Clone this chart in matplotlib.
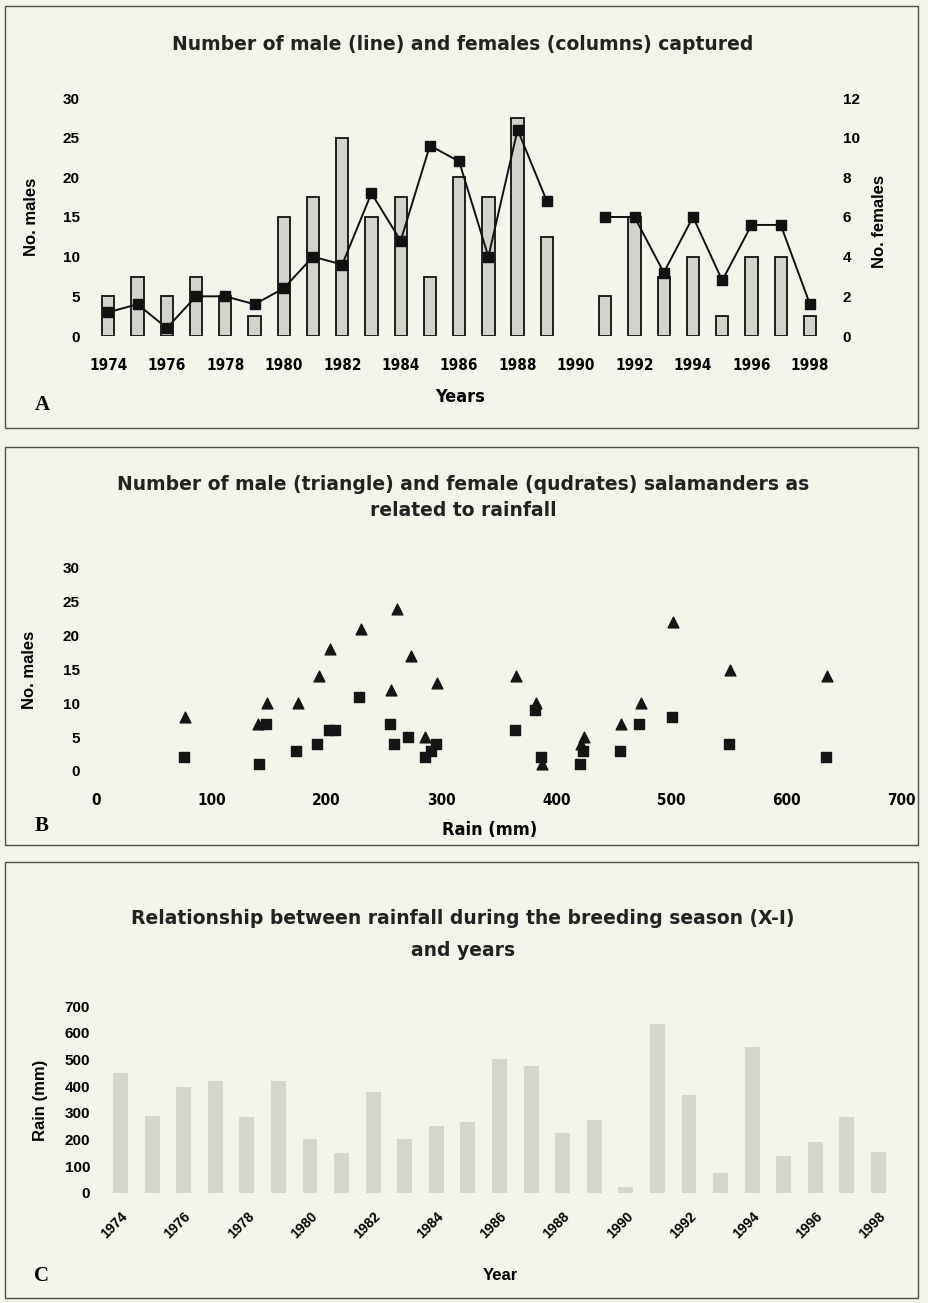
import os
import matplotlib
matplotlib.use('Agg')
import matplotlib.pyplot as plt
from matplotlib import font_manager
from matplotlib.font_manager import FontProperties
from matplotlib.patches import Rectangle
import numpy as np

# ---------------- data ----------------
years = list(range(1974, 1999))
males = [3, 4, 1, 5, 5, 4, 6, 10, 9, 18, 12, 24, 22, 10, 26, 17, np.nan,
         15, 15, 8, 15, 7, 14, 14, 4]
females = [2, 3, 2, 3, 2, 1, 6, 7, 10, 6, 7, 3, 8, 7, 11, 5, np.nan,
           2, 6, 3, 4, 1, 4, 4, 1]
rain = [450, 290, 396, 421, 284, 421, 204, 150, 377, 201, 249, 265, 502,
        476, 225, 272, 24, 634, 365, 76, 547, 138, 191, 284, 154]

# panel B (as drawn)
b_rain_males = [77, 140, 148, 175, 193, 203, 230, 261, 256, 273, 286, 296,
                365, 382, 387, 424, 421, 456, 473, 501, 551, 635]
b_males = [8, 7, 10, 10, 14, 18, 21, 24, 12, 17, 5, 13,
           14, 10, 1, 5, 4, 7, 10, 22, 15, 14]
b_rain_females = [76, 141, 147, 173, 192, 202, 207, 228, 255, 259, 271, 286,
                  291, 295, 364, 381, 386, 420, 423, 455, 472, 500, 550, 634]
b_females = [2, 1, 7, 3, 4, 6, 6, 11, 7, 4, 5, 2,
             3, 4, 6, 9, 2, 1, 3, 3, 7, 8, 4, 2]

a_ticks = list(range(1974, 1999, 2))
b_xticks = list(range(0, 701, 100))
c_ticks = list(range(1974, 1999, 2))

# ---------------- fonts ----------------
names = {f.name for f in font_manager.fontManager.ttflist}
SANS = 'Liberation Sans' if 'Liberation Sans' in names else 'DejaVu Sans'
SERIF = 'Liberation Serif' if 'Liberation Serif' in names else 'DejaVu Serif'
TITLE = 'DejaVu Sans'
plt.rcParams['font.family'] = [SANS, 'DejaVu Sans']

narrow_file = None
for key in ['LiberationSansNarrow-Bold.', 'DejaVuSansCondensed-Bold.',
            'RobotoCondensed-Bold.', 'OpenSans_Condensed-Bold', 'OpenSansCondensed-Bold']:
    for f in font_manager.fontManager.ttflist:
        if key in os.path.basename(f.fname):
            narrow_file = f.fname
            break
    if narrow_file:
        break


def narrow(size):
    if narrow_file:
        return FontProperties(fname=narrow_file, size=size)
    return FontProperties(family=SANS, weight='bold', size=size * 0.92)


W, H = 929, 1303
BG = '#f3f4ea'
fig = plt.figure(figsize=(W / 100, H / 100), dpi=100, facecolor=BG)


def fx(x):
    return x / W


def fy(y):
    return 1 - y / H


def add_ax(x0, x1, ytop, ybot):
    ax = fig.add_axes([fx(x0), fy(ybot), (x1 - x0) / W, (ybot - ytop) / H])
    ax.set_facecolor('none')
    for s in ax.spines.values():
        s.set_visible(False)
    ax.tick_params(length=0)
    return ax


def bold_labels(labels, size=11):
    for lab in labels:
        lab.set_fontsize(size)
        lab.set_fontweight('bold')


# frames
for (x0, y0, x1, y1) in [(5, 6, 918, 428), (5, 447, 918, 845), (5, 862, 918, 1298)]:
    fig.patches.append(Rectangle((fx(x0), fy(y1)), (x1 - x0) / W, (y1 - y0) / H,
                                 transform=fig.transFigure, fill=False,
                                 edgecolor='#505050', lw=1.0))

# ---------------- panel A ----------------
axF = add_ax(90.8, 827.5, 98, 336)
axF.set_xlim(1973.4, 1998.6)
axF.set_ylim(0, 12)
axF.bar(years, females, width=0.42, color='#d3d3cb', edgecolor='#111111', lw=1.3, zorder=2)
axF.set_xticks(a_ticks)
axF.set_xticklabels([str(t) for t in a_ticks], fontproperties=narrow(11))
axF.tick_params(axis='x', pad=16)

axM = axF.twinx()
axM.set_facecolor('none')
for s in axM.spines.values():
    s.set_visible(False)
axM.set_ylim(0, 30)
axM.plot(years, males, color='#111111', lw=1.4, marker='s', ms=7, zorder=3)
axM.yaxis.tick_left()
axM.set_yticks(range(0, 31, 5))
axM.tick_params(length=0, pad=8)
bold_labels(axM.get_yticklabels())

# females scale on the right
axF.yaxis.tick_right()
axF.set_yticks(range(0, 13, 2))
axF.tick_params(axis='y', length=0, pad=11)
bold_labels(axF.get_yticklabels())

fig.text(fx(463), fy(44), 'Number of male (line) and females (columns) captured',
         ha='center', va='center', fontsize=13.5, fontweight='bold', color='#222222',
         fontfamily=TITLE)
fig.text(fx(32), fy(217), 'No. males', rotation=90, ha='center', va='center',
         fontsize=12, fontweight='bold')
fig.text(fx(880), fy(222), 'No. females', rotation=90, ha='center', va='center',
         fontsize=12, fontweight='bold')
fig.text(fx(460), fy(397), 'Years', ha='center', va='center', fontproperties=narrow(13))
fig.text(fx(42), fy(405), 'A', ha='center', va='center', fontsize=15,
         fontweight='bold', fontfamily=SERIF)

# ---------------- panel B ----------------
axB = add_ax(96.6, 901.6, 568, 771)
axB.set_xlim(0, 700)
axB.set_ylim(0, 30)
axB.scatter(b_rain_males, b_males, marker='^', s=60, color='#151515', zorder=3)
axB.scatter(b_rain_females, b_females, marker='s', s=45, color='#151515', zorder=3)
axB.set_xticks(b_xticks)
axB.set_xticklabels([str(t) for t in b_xticks], fontproperties=narrow(11))
axB.set_yticks(range(0, 31, 5))
axB.tick_params(axis='y', pad=12)
axB.tick_params(axis='x', pad=16)
bold_labels(axB.get_yticklabels())

fig.text(fx(463), fy(485), 'Number of male (triangle) and female (qudrates) salamanders as',
         ha='center', va='center', fontsize=13.5, fontweight='bold', color='#222222',
         fontfamily=TITLE)
fig.text(fx(463), fy(510), 'related to rainfall',
         ha='center', va='center', fontsize=13.5, fontweight='bold', color='#222222',
         fontfamily=TITLE)
fig.text(fx(30), fy(670), 'No. males', rotation=90, ha='center', va='center',
         fontsize=12, fontweight='bold')
fig.text(fx(490), fy(830), 'Rain (mm)', ha='center', va='center', fontproperties=narrow(13))
fig.text(fx(42), fy(826), 'B', ha='center', va='center', fontsize=15,
         fontweight='bold', fontfamily=SERIF)

# ---------------- panel C ----------------
axC = add_ax(98.4, 900.6, 1006, 1193)
axC.set_xlim(1973.3, 1998.7)
axC.set_ylim(0, 700)
axC.bar(years, rain, width=0.47, color='#d5d6cd', edgecolor='none', zorder=2)
axC.set_yticks(range(0, 701, 100))
axC.tick_params(axis='y', pad=6)
bold_labels(axC.get_yticklabels())
axC.set_xticks(c_ticks)
axC.set_xticklabels([str(t) for t in c_ticks], rotation=45, ha='right',
                    rotation_mode='anchor', fontsize=10, fontweight='bold')
axC.tick_params(axis='x', pad=12)

fig.text(fx(463), fy(918), 'Relationship between rainfall during the breeding season (X-I)',
         ha='center', va='center', fontsize=13.5, fontweight='bold', color='#222222',
         fontfamily=TITLE)
fig.text(fx(463), fy(950), 'and years',
         ha='center', va='center', fontsize=13.5, fontweight='bold', color='#222222',
         fontfamily=TITLE)
fig.text(fx(40), fy(1100), 'Rain (mm)', rotation=90, ha='center', va='center',
         fontsize=12, fontweight='bold')
fig.text(fx(500), fy(1275), 'Year', ha='center', va='center', fontsize=12,
         fontweight='bold')
fig.text(fx(42), fy(1276), 'C', ha='center', va='center', fontsize=15,
         fontweight='bold', fontfamily=SERIF)

fig.savefig('out.png', dpi=100, facecolor=BG)
